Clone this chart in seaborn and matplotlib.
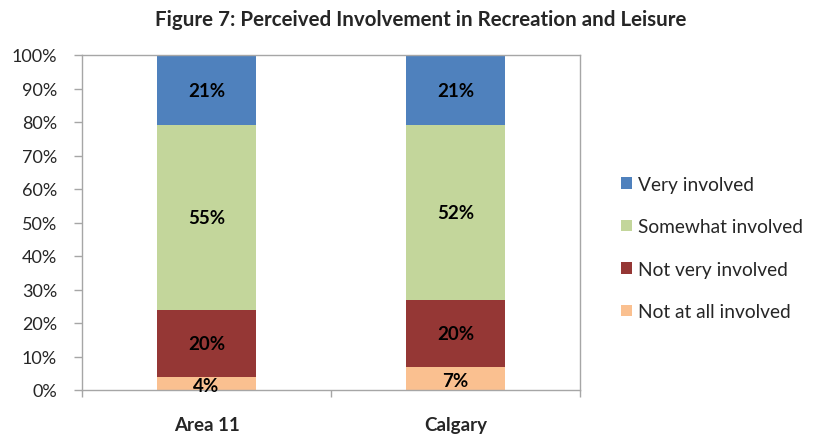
import numpy as np
import pandas as pd
import matplotlib
matplotlib.use("Agg")
import matplotlib.pyplot as plt
import seaborn as sns
from matplotlib.patches import Patch

# data
groups = ["Area 11", "Calgary"]
not_at_all = [4, 7]
not_very = [20, 20]
somewhat = [55, 52]
very = [21, 21]

series_names = ["Not at all involved", "Not very involved", "Somewhat involved", "Very involved"]
series_vals = [not_at_all, not_very, somewhat, very]
colors = ["#FAC090", "#953735", "#C3D69B", "#4F81BD"]

sns.set_style("white")
plt.rcParams["font.family"] = ["Lato", "DejaVu Sans"]

fig = plt.figure(figsize=(8.17, 4.39), dpi=100)
ax = fig.add_axes([82 / 817, 1 - 391 / 439, (580 - 82) / 817, (391 - 56) / 439])

# cumulative tops, drawn tallest first so lower segments sit on top
tops = np.cumsum(np.array(series_vals), axis=0)
for i in range(len(series_names) - 1, -1, -1):
    df = pd.DataFrame({"group": groups, "top": tops[i]})
    sns.barplot(data=df, x="group", y="top", color=colors[i], width=0.4,
                saturation=1, linewidth=0, ax=ax)

# segment labels
for j, g in enumerate(groups):
    base = 0
    for i, vals in enumerate(series_vals):
        v = vals[j]
        mid = base + v / 2
        if v < 10:
            mid = base + v / 2 - 0.8
        ax.text(j, mid, f"{v}%", ha="center", va="center", fontsize=13.5,
                fontweight="bold", color="black")
        base += v

ax.set_ylim(0, 100)
ax.set_xlim(-0.5, 1.5)
ax.set_yticks(range(0, 101, 10))
ax.set_yticklabels([f"{t}%" for t in range(0, 101, 10)], fontsize=13)
ax.set_xticks([0, 1])
ax.set_xticklabels(groups, fontsize=13.5, fontweight="bold")
ax.set_xticks([-0.5, 0.5, 1.5], minor=True)
ax.tick_params(axis="x", which="major", length=0, pad=19)
ax.tick_params(axis="x", which="minor", length=5, width=1, color="#A6A6A6", direction="out", bottom=True)
ax.tick_params(axis="y", length=6, width=1, color="#A6A6A6", direction="out", left=True, pad=12)
ax.set_xlabel("")
ax.set_ylabel("")
for s in ax.spines.values():
    s.set_visible(True)
    s.set_color("#A6A6A6")
    s.set_linewidth(1)

fig.text(421 / 817, 1 - 20 / 439, "Figure 7: Perceived Involvement in Recreation and Leisure",
         ha="center", va="center", fontsize=14.8, fontweight="bold")

handles = [Patch(facecolor=colors[i], edgecolor="none") for i in range(3, -1, -1)]
labels = [series_names[i] for i in range(3, -1, -1)]
fig.legend(handles, labels, loc="center left", bbox_to_anchor=(604 / 817, 1 - 249 / 439),
           frameon=False, fontsize=13.8, handlelength=0.55, handleheight=0.55,
           handletextpad=0.35, labelspacing=1.33)

fig.savefig("out.png", dpi=100)
